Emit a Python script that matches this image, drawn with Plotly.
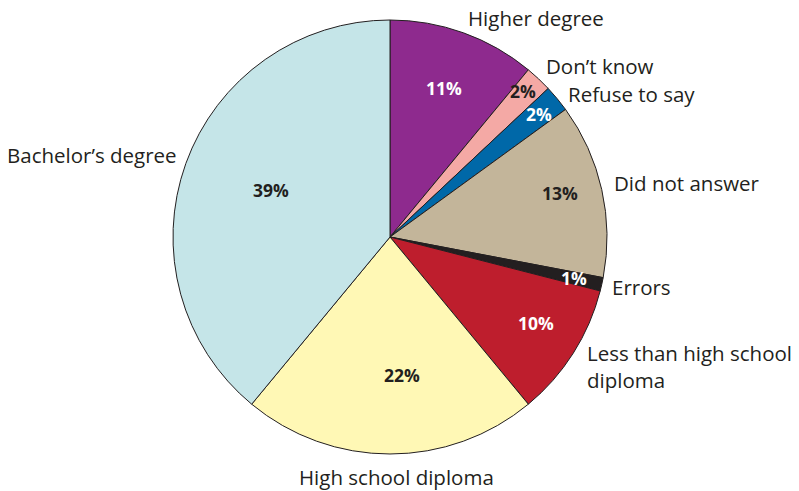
import math
import plotly.graph_objects as go

# Highest level of education, share of respondents
categories = ["Higher degree", "Don\u2019t know", "Refuse to say", "Did not answer",
              "Errors", "Less than high school diploma", "High school diploma",
              "Bachelor\u2019s degree"]
values = [11, 2, 2, 13, 1, 10, 22, 39]
colors = ["#8E2A8E", "#F4A9A5", "#0068A8", "#C3B59A",
          "#231F20", "#BE1E2D", "#FFF8B5", "#C5E5E8"]
text_colors = ["white", "#231F20", "white", "#231F20",
               "white", "white", "#231F20", "#231F20"]
# radial placement of the percentage labels (fraction of radius)
label_radius = [0.73, 0.91, 0.89, 0.81, 0.87, 0.78, 0.64, 0.59]
# small angular nudges (degrees) for the percentage labels
label_shift = [0, -1, 0, -2, 0, -2, -5, 1.5]

W, H = 799, 491
cx, cy, R = 390, 237, 217

fig = go.Figure(go.Pie(
    labels=categories, values=values, sort=False, direction="clockwise",
    rotation=0, textinfo="none", hoverinfo="label+percent",
    marker=dict(colors=colors, line=dict(color="#231F20", width=1)),
    domain=dict(x=[(cx - R) / W, (cx + R) / W], y=[1 - (cy + R) / H, 1 - (cy - R) / H]),
    showlegend=False,
))

annotations = []
total = sum(values)
cum = 0
for v, tc, rf, sh in zip(values, text_colors, label_radius, label_shift):
    mid = (cum + v / 2) / total * 360 + sh
    cum += v
    a = math.radians(mid)
    px = cx + rf * R * math.sin(a)
    py = cy - rf * R * math.cos(a)
    annotations.append(dict(
        x=px / W, y=1 - py / H, xref="paper", yref="paper", showarrow=False,
        text=f"<b>{v}%</b>", font=dict(family="Open Sans", size=17.5, color=tc),
        xanchor="center", yanchor="middle"))

# category names around the pie: (text, x, y, xanchor, yanchor)
outside = [
    ("Higher degree", 536, 18, "center", "middle"),
    ("Don\u2019t know", 546, 80, "left", "bottom"),
    ("Refuse to say", 568, 80, "left", "top"),
    ("Did not answer", 614, 183, "left", "middle"),
    ("Errors", 612, 287, "left", "middle"),
    ("Less than high school", 587, 367, "left", "bottom"),
    ("diploma", 587, 366, "left", "top"),
    ("High school diploma", 396, 477, "center", "middle"),
    ("Bachelor\u2019s degree", 7, 155, "left", "middle"),
]
for t, x, y, xa, ya in outside:
    annotations.append(dict(
        x=x / W, y=1 - y / H, xref="paper", yref="paper", showarrow=False,
        text=t, font=dict(family="Open Sans", size=20.5, color="#231F20"),
        xanchor=xa, yanchor=ya, align="left", borderpad=0, borderwidth=0))

fig.update_layout(
    width=W, height=H, margin=dict(l=0, r=0, t=0, b=0),
    paper_bgcolor="white", plot_bgcolor="white",
    annotations=annotations,
)

fig.write_html("out.html")
